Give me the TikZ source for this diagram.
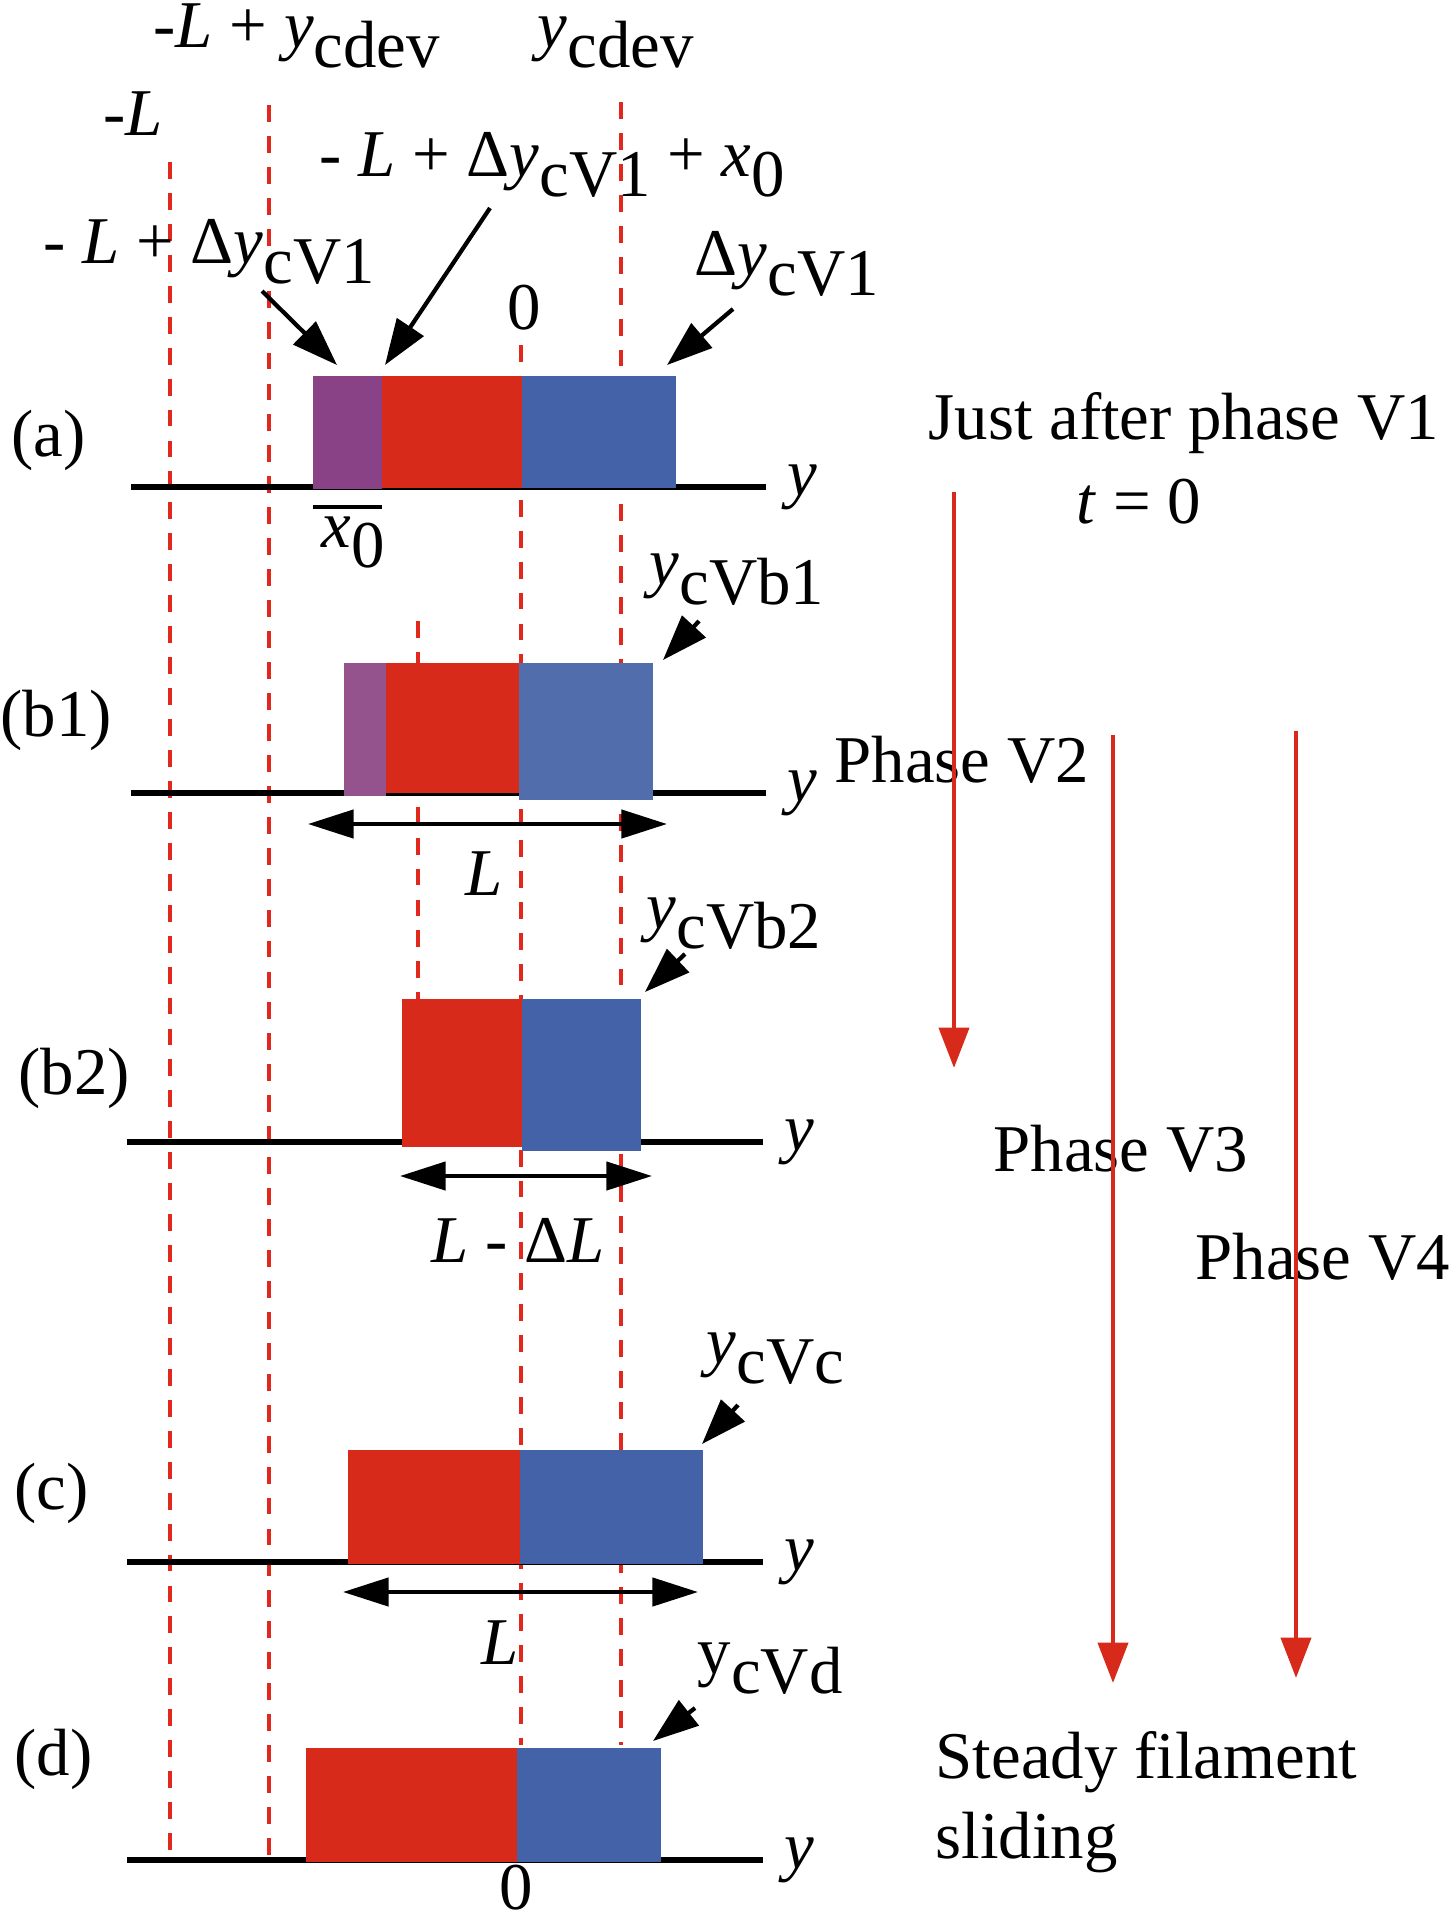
\documentclass[tikz,border=0pt]{standalone}
\usepackage{fontspec}
\setmainfont{Liberation Serif}
\usetikzlibrary{arrows.meta}
\usetikzlibrary{positioning}

\definecolor{filred}{HTML}{D82A1B}
\definecolor{filblue}{HTML}{4362A8}
\definecolor{filpurple}{HTML}{8A4287}
\definecolor{filbluelt}{HTML}{516DAB}
\definecolor{filpurplelt}{HTML}{94538D}
\definecolor{guidered}{HTML}{E0281C}

\newcommand{\lowsub}[1]{\raisebox{-0.3em}{#1}}

\tikzset{
    lbl/.style={inner sep=0pt, font=\fontsize{19}{23}\selectfont},
    guide/.style={guidered, line width=1.1pt, dash pattern=on 4.8pt off 4pt},
    axisline/.style={line width=1.5pt},
    pointer/.style={line width=1.2pt, -{Triangle[length=13pt, width=9pt]}},
    lenarrow/.style={line width=1.2pt, {Triangle[length=13pt, width=8pt]}-{Triangle[length=13pt, width=8pt]}},
    phasearrow/.style={filred, line width=1.3pt, -{Triangle[length=11.5pt, width=8.5pt]}}
}

\begin{document}
\begin{tikzpicture}[x=0.01cm, y=-0.01cm]
    \useasboundingbox (0,0) rectangle (1454,1923);

    \draw[guide] (170,162) -- (170,1860);
    \draw[guide] (269,105) -- (269,1860);
    \draw[guide] (521,345) -- (521,1745);
    \draw[guide] (621,102) -- (621,1745);
    \draw[guide] (418,621) -- (418,999);

    \draw[axisline] (131,487) -- (766,487) node[lbl, right=5.5pt] (ya) {\textit{y}};
    \draw[axisline] (131,793) -- (766,793) node[lbl, right=5.5pt] (yb1) {\textit{y}};
    \draw[axisline] (127,1142) -- (763,1142) node[lbl, right=5.5pt] (yb2) {\textit{y}};
    \draw[axisline] (127,1562) -- (763,1562) node[lbl, right=5.5pt] (yc) {\textit{y}};
    \draw[axisline] (127,1860) -- (763,1860) node[lbl, right=5.5pt] (yd) {\textit{y}};

    \fill[filpurple] (313,376) rectangle (382,489);
    \fill[filred] (382,376) rectangle (522,488);
    \fill[filblue] (522,376) rectangle (676,488);

    \fill[filpurplelt] (344,663) rectangle (386,796);
    \fill[filred] (386,663) rectangle (519,793);
    \fill[filbluelt] (519,663) rectangle (653,800);

    \fill[filred] (402,999) rectangle (522,1147);
    \fill[filblue] (522,999) rectangle (641,1151);

    \fill[filred] (348,1450) rectangle (520,1564);
    \fill[filblue] (520,1450) rectangle (703,1564);

    \fill[filred] (306,1748) rectangle (517,1862);
    \fill[filblue] (517,1748) rectangle (661,1862);

    \node[lbl, anchor=base west] (pa) at (11,456) {(a)};
    \node[lbl, anchor=base west] (pb1) at (0,736) {(b1)};
    \node[lbl, anchor=base west] (pb2) at (18,1094) {(b2)};
    \node[lbl, anchor=base west] (pc) at (14,1509) {(c)};
    \node[lbl, anchor=base west] (pd) at (14,1775) {(d)};

    \node[lbl, anchor=base west] (lmydev) at (153,47) {-\textit{L} + \textit{y}\lowsub{cdev}};
    \node[lbl, anchor=base west] (ydev) at (537,47) {\textit{y}\lowsub{cdev}};
    \node[lbl, anchor=base west] (lneg) at (103,135) {-\textit{L}};
    \node[lbl, anchor=base west] (ldyx) at (319,176) {- \textit{L} + Δ\textit{y}\lowsub{cV1} + \textit{x}\lowsub{0}};
    \node[lbl, anchor=base west] (ldy) at (43,263) {- \textit{L} + Δ\textit{y}\lowsub{cV1}};
    \node[lbl, anchor=base west] (dy) at (694,275) {Δ\textit{y}\lowsub{cV1}};
    \node[lbl, anchor=base] (zeroa) at (524,329) {0};
    \node[lbl, anchor=base] (zerod) at (516,1909) {0};

    \draw[line width=1pt] (313,507) -- (382,507);
    \node[lbl, anchor=base west] (xnull) at (321,547) {\textit{x}\lowsub{0}};

    \node[lbl, anchor=base west] (ycb1) at (649,584) {\textit{y}\lowsub{cVb1}};
    \node[lbl, anchor=base west] (ycb2) at (646,928) {\textit{y}\lowsub{cVb2}};
    \node[lbl, anchor=base west] (ycc) at (706,1363) {\textit{y}\lowsub{cVc}};
    \node[lbl, anchor=base west] (ycd) at (697,1673) {y\lowsub{cVd}};

    \coordinate (a1s) at (262,291);
    \coordinate (a1e) at (337,365);
    \coordinate (a2s) at (490,208);
    \coordinate (a2e) at (385,365);
    \coordinate (a3s) at (733,309);
    \coordinate (a3e) at (667,365);
    \coordinate (b1s) at (699,621);
    \coordinate (b1e) at (663,660);
    \coordinate (b2s) at (685,954);
    \coordinate (b2e) at (645,992);
    \coordinate (cs) at (738,1405);
    \coordinate (ce) at (702,1444);
    \coordinate (ds) at (695,1708);
    \coordinate (de) at (653,1741);
    \draw[pointer] (a1s) -- (a1e);
    \draw[pointer] (a2s) -- (a2e);
    \draw[pointer] (a3s) -- (a3e);
    \draw[pointer] (b1s) -- (b1e);
    \draw[pointer] (b2s) -- (b2e);
    \draw[pointer] (cs) -- (ce);
    \draw[pointer] (ds) -- (de);

    \coordinate (lb1l) at (308,824);
    \coordinate (lb1r) at (667,824);
    \coordinate (lb2l) at (400,1176);
    \coordinate (lb2r) at (652,1176);
    \coordinate (lcl) at (343,1592);
    \coordinate (lcr) at (698,1592);
    \draw[lenarrow] (lb1l) -- (lb1r);
    \draw[lenarrow] (lb2l) -- (lb2r);
    \draw[lenarrow] (lcl) -- (lcr);
    \node[lbl, anchor=base] (lenb1) at (484,895) {\textit{L}};
    \node[lbl, anchor=base] (lenb2) at (518,1262) {\textit{L} - Δ\textit{L}};
    \node[lbl, anchor=base] (lenc) at (500,1664) {\textit{L}};

    \node[lbl, anchor=base west] (just) at (928,439) {Just after phase V1};
    \node[lbl, anchor=base west] (tzero) at (1076,523) {\textit{t} = 0};
    \node[lbl, anchor=base west] (phv2) at (834,782) {Phase V2};
    \node[lbl, anchor=base west] (phv3) at (993,1171) {Phase V3};
    \node[lbl, anchor=base west] (phv4) at (1195,1279) {Phase V4};
    \node[lbl, anchor=base west] (steady) at (935,1778) {Steady filament};
    \node[lbl, anchor=base west] (slide) at (935,1858) {sliding};

    \coordinate (v2s) at (954,492);
    \coordinate (v2e) at (954,1068);
    \coordinate (v3s) at (1113,735);
    \coordinate (v3e) at (1113,1683);
    \coordinate (v4s) at (1296,731);
    \coordinate (v4e) at (1296,1678);
    \draw[phasearrow] (v2s) -- (v2e);
    \draw[phasearrow] (v3s) -- (v3e);
    \draw[phasearrow] (v4s) -- (v4e);
\end{tikzpicture}
\end{document}
